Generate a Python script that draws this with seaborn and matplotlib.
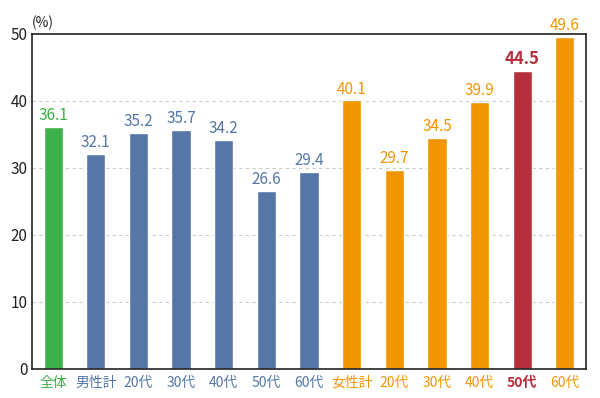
import matplotlib
matplotlib.use("Agg")
import matplotlib.pyplot as plt
import seaborn as sns
import pandas as pd

categories = ["全体", "男性計", "20代", "30代", "40代", "50代", "60代",
              "女性計", "20代", "30代", "40代", "50代", "60代"]
values = [36.1, 32.1, 35.2, 35.7, 34.2, 26.6, 29.4,
          40.1, 29.7, 34.5, 39.9, 44.5, 49.6]
groups = ["all", "male", "male", "male", "male", "male", "male",
          "female", "female", "female", "female", "highlight", "female"]
yticks = [0, 10, 20, 30, 40, 50]

palette = {"all": "#3db049", "male": "#5676a8", "female": "#f29600", "highlight": "#b52f3c"}

sns.set_theme(style="white")
plt.rcParams['font.family'] = ['Noto Sans CJK JP', 'DejaVu Sans']

df = pd.DataFrame({"x": [f"{i}" for i in range(len(categories))],
                   "value": values, "group": groups})

fig = plt.figure(figsize=(6.0, 3.98), dpi=100)
ax = fig.add_axes([0.053, 0.073, 0.924, 0.842])
sns.barplot(data=df, x="x", y="value", hue="group", palette=palette,
            dodge=False, width=0.45, ax=ax, legend=False, saturation=1)

ax.set_ylim(0, 50)
ax.set_yticks(yticks)
ax.set_yticklabels([str(t) for t in yticks], fontsize=11, color="#222222")
ax.set_xlim(-0.5, len(categories) - 0.5)
ax.set_xlabel("")
ax.set_ylabel("")
ax.set_xticks(range(len(categories)))
ax.set_xticklabels(categories, fontsize=10)
for lbl, g in zip(ax.get_xticklabels(), groups):
    lbl.set_color(palette[g])
    if g == "highlight":
        lbl.set_fontweight("bold")
ax.tick_params(axis="y", length=0, pad=3)
ax.tick_params(axis="x", length=0, pad=5)

for y in yticks[1:-1]:
    ax.axhline(y, color="#cccccc", lw=0.8, ls=(0, (3, 3)), zorder=0)

for i, (v, g) in enumerate(zip(values, groups)):
    bold = g == "highlight"
    ax.text(i, v + 0.4, f"{v}", ha="center", va="bottom",
            fontsize=12 if bold else 11, color=palette[g],
            fontweight="bold" if bold else "normal", clip_on=False)

for s in ax.spines.values():
    s.set_color("#222222")
    s.set_linewidth(1.2)
    s.set_visible(True)

ax.text(-0.5, 50.5, "(%)", fontsize=10, color="#222222", ha="left", va="bottom")

fig.savefig("out.png", dpi=100)
